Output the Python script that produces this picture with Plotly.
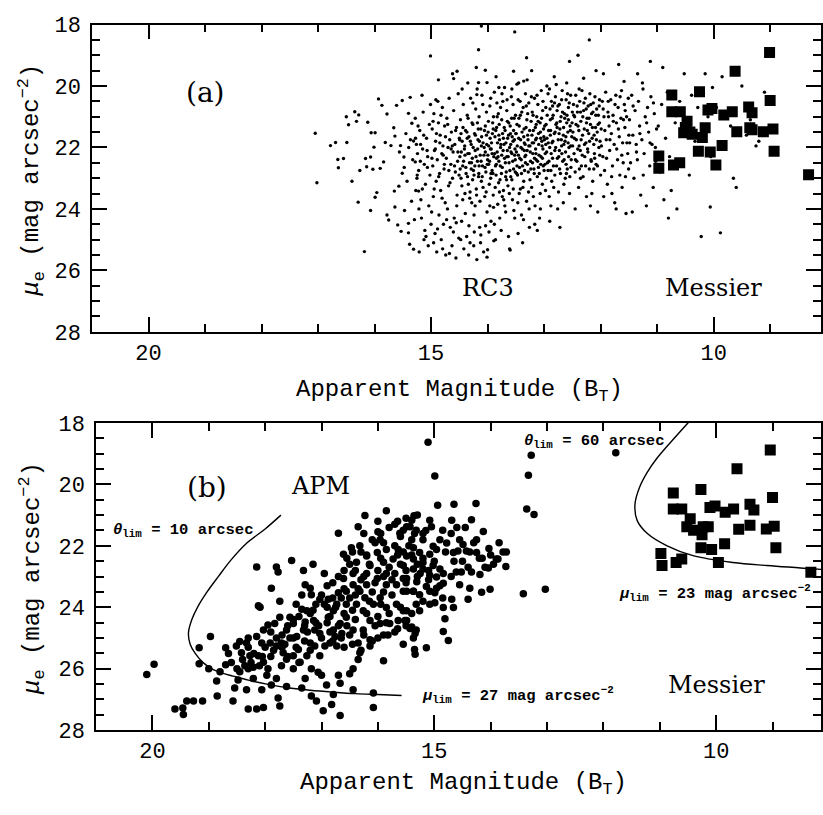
import plotly.graph_objects as go

# ---------------- DATA ----------------
# Panel (a): RC3 galaxies (B_T, mu_e)
rc3_pts = [
(17.05,21.54),(17.02,23.15),(16.78,21.94),(16.69,21.84),(16.64,22.66),(16.65,22.39),(16.55,22.36),(16.49,21.84),
(16.50,21.0),(16.46,21.26),(16.35,20.84),(16.32,21.15),(16.28,20.94),(16.40,23.10),(16.29,23.78),(16.18,25.39),
(16.26,22.75),(16.16,22.36),(16.14,22.63),(16.12,21.18),(16.07,24.05),(16.06,21.52),(16.07,22.31),(16.03,22.71),
(16.01,21.99),(15.99,23.62),(15.96,23.47),(15.93,20.42),(15.90,22.68),(15.87,20.63),(15.84,22.47),(15.81,21.84),
(15.78,24.20),(15.75,24.36),(15.66,21.36),(15.64,21.63),(15.64,23.94),(15.65,23.42),(15.57,23.26),(15.56,22.15),
(15.54,21.94),(15.51,22.84),(15.48,22.31),(15.47,24.05),(15.40,24.47),(15.40,24.78),(15.38,25.15),(15.31,25.31),
(15.61,20.63),(15.51,20.47),(15.40,20.89),(15.37,20.37),(15.34,21.21),(15.31,21.79),(15.28,22.47),(15.25,23.0),
(15.22,23.42),(15.78,20.91),(15.71,21.94),(15.99,21.52),(15.59,24.52),(15.53,24.73),
(15.28,21.05),(15.26,21.9),(15.24,22.2),(15.22,22.75),(15.2,21.45),(15.18,23.7),(15.17,24.3),(15.15,22.05),
(15.14,20.85),(15.12,22.55),(15.1,23.2),(15.09,24.9),(15.08,21.7),(15.06,22.3),(15.05,25.2),(15.04,23.9),
(15.03,21.25),(15.02,22.9),(15.01,20.6),(15.0,24.5),(15.27,23.4),(15.21,25.4),(15.13,21.6),(15.07,22.1),
(15.19,22.45),(15.11,24.7),(15.16,20.3),(15.23,21.3),(15.01,19.02),
(15.475,22.65),(15.445,21.55),(15.425,23.1),(15.395,22.0),(15.365,21.75),(15.345,23.75),(15.325,22.4),
(15.295,24.35),(15.275,21.7),(15.245,22.9),(15.215,24.0),(15.185,21.9),(15.155,23.35),(15.125,25.0),(15.065,22.65),
(14.98,21.4),(14.97,22.6),(14.96,23.6),(14.95,20.9),(14.94,22.1),(14.93,24.8),(14.92,21.8),(14.91,23.1),
(14.9,25.4),(14.89,22.4),(14.88,20.5),(14.87,21.2),(14.86,24.2),(14.85,22.85),(14.84,21.6),(14.83,23.4),
(14.82,25.0),(14.81,22.2),(14.8,20.7),(14.79,21.95),(14.78,24.5),(14.77,22.7),(14.76,21.3),(14.75,23.8),
(14.74,25.5),(14.73,22.35),(14.72,21.05),(14.71,24.0),(14.7,22.0),(14.69,23.25),(14.68,20.4),(14.67,21.75),
(14.66,24.6),(14.65,22.55),(14.64,21.5),(14.63,25.2),(14.62,23.0),(14.61,22.15),(14.6,20.8),(14.59,24.3),
(14.58,21.9),(14.57,22.8),(14.56,25.6),(14.55,21.35),(14.54,23.55),(14.53,22.45),(14.52,20.25),(14.51,24.95),
(14.5,21.7),(14.99,24.1),(14.87,19.8),(14.62,19.6),(14.54,19.52),(14.6,19.76),
(14.985,22.35),(14.965,21.15),(14.945,23.35),(14.925,22.05),(14.905,21.55),(14.885,24.65),(14.865,22.95),
(14.845,21.85),(14.825,20.95),(14.805,23.65),(14.785,22.25),(14.765,22.55),(14.745,21.65),(14.725,24.35),
(14.705,21.25),(14.685,22.75),(14.665,23.15),(14.645,22.05),(14.625,21.95),(14.605,24.75),(14.585,22.6),
(14.565,21.45),(14.545,23.9),(14.525,22.15),(14.505,22.9),(14.955,25.1),(14.795,25.3),(14.675,25.45),
(14.555,24.45),(14.915,20.45),
(14.49,22.3),(14.48,21.1),(14.47,23.0),(14.46,24.4),(14.45,21.8),(14.44,22.6),(14.43,20.6),(14.42,25.3),
(14.41,22.05),(14.4,23.5),(14.39,21.45),(14.38,22.85),(14.37,24.9),(14.36,20.95),(14.35,22.2),(14.34,23.2),
(14.33,21.65),(14.32,22.5),(14.31,25.1),(14.3,20.4),(14.29,21.9),(14.28,23.8),(14.27,22.35),(14.26,21.25),
(14.25,22.75),(14.24,24.2),(14.23,21.55),(14.22,22.1),(14.21,20.75),(14.2,23.35),(14.19,25.65),(14.18,22.45),
(14.17,21.75),(14.16,22.95),(14.15,21.0),(14.14,24.6),(14.13,22.25),(14.12,21.4),(14.11,23.1),(14.1,20.3),
(14.09,22.6),(14.08,21.85),(14.07,25.4),(14.06,22.0),(14.05,23.6),(14.04,21.3),(14.03,22.8),(14.02,20.85),
(14.01,24.1),(14.0,22.4),(14.47,21.55),(14.44,23.7),(14.4,22.25),(14.36,21.7),(14.33,24.55),(14.29,22.7),
(14.26,20.55),(14.22,23.9),(14.18,21.2),(14.15,22.6),(14.11,21.95),(14.08,23.3),(14.04,22.15),(14.02,21.6),
(14.45,20.1),(14.35,19.9),(14.2,19.4),(14.12,24.85),(14.31,23.45),(14.24,22.9),(14.11,18.05),(14.16,18.82),
(14.04,19.49),(14.16,19.89),(14.01,19.89),(14.19,20.28),(14.0,25.33),(14.01,25.57),
(14.495,21.75),(14.485,22.7),(14.465,22.15),(14.455,23.25),(14.435,21.35),(14.425,22.45),(14.405,21.95),
(14.395,24.15),(14.385,22.65),(14.365,21.5),(14.355,22.95),(14.345,21.05),(14.325,22.2),(14.315,23.65),
(14.305,21.8),(14.285,22.5),(14.275,21.2),(14.265,23.05),(14.255,22.0),(14.235,24.75),(14.225,22.6),
(14.215,21.6),(14.205,22.3),(14.195,23.55),(14.175,22.05),(14.165,21.4),(14.155,22.85),(14.145,21.8),
(14.135,23.75),(14.115,22.45),(14.105,21.65),(14.095,22.95),(14.085,20.6),(14.065,22.25),(14.055,21.45),
(14.045,22.65),(14.025,23.45),(14.015,21.9),(14.005,22.55),(14.475,25.0),(14.335,25.5),(14.245,25.2),
(14.125,25.1),(14.035,24.55),(14.185,20.1),
(13.99,21.5),(13.98,22.55),(13.97,23.2),(13.96,20.65),(13.95,22.05),(13.94,24.4),(13.93,21.85),(13.92,22.75),
(13.91,21.2),(13.9,23.55),(13.89,22.3),(13.88,20.2),(13.87,21.65),(13.86,25.0),(13.85,22.9),(13.84,21.35),
(13.83,22.15),(13.82,23.85),(13.81,20.9),(13.8,22.45),(13.79,21.75),(13.78,23.05),(13.77,22.0),(13.76,24.7),
(13.75,21.1),(13.74,22.65),(13.73,20.5),(13.72,23.4),(13.71,21.9),(13.7,22.35),(13.69,21.45),(13.68,24.1),
(13.67,22.8),(13.66,20.8),(13.65,22.1),(13.64,23.25),(13.63,21.6),(13.62,22.5),(13.61,25.3),(13.6,21.3),
(13.59,22.95),(13.58,20.35),(13.57,22.2),(13.56,23.7),(13.55,21.8),(13.54,22.7),(13.53,21.05),(13.52,24.3),
(13.51,22.4),(13.5,21.55),(13.98,21.95),(13.94,22.85),(13.9,21.4),(13.86,22.6),(13.83,21.0),(13.79,23.45),
(13.75,22.25),(13.72,21.7),(13.68,22.95),(13.65,21.15),(13.61,22.0),(13.57,23.05),(13.54,21.45),(13.51,22.8),
(13.96,23.9),(13.88,24.5),(13.77,20.7),(13.7,20.05),(13.63,24.9),(13.55,20.6),(13.92,22.2),(13.84,22.35),
(13.8,21.6),(13.66,22.3),(13.59,21.9),(13.52,22.25),(13.74,23.6),(13.85,19.7),(13.52,18.24),(13.8,20.05),
(13.57,20.10),(13.54,19.52),(13.89,25.04),(13.6,25.34),
(13.995,22.25),(13.985,21.15),(13.965,22.45),(13.955,21.7),(13.945,23.0),(13.935,22.05),(13.915,21.55),
(13.905,22.85),(13.895,21.0),(13.875,22.2),(13.865,23.3),(13.855,21.45),(13.845,22.55),(13.825,21.85),
(13.815,22.3),(13.805,23.15),(13.795,21.25),(13.775,22.6),(13.765,21.9),(13.755,22.85),(13.735,21.55),
(13.725,22.1),(13.715,23.7),(13.705,21.35),(13.685,22.5),(13.675,21.85),(13.665,23.05),(13.645,21.7),
(13.635,22.3),(13.625,21.2),(13.605,22.75),(13.595,21.55),(13.585,22.15),(13.565,21.65),(13.555,22.45),
(13.545,23.35),(13.525,21.75),(13.515,22.05),(13.505,20.95),(13.975,24.75),(13.895,23.95),(13.785,24.3),
(13.695,23.9),(13.615,23.5),(13.535,24.05),(13.945,20.4),(13.835,20.55),(13.745,20.25),(13.655,20.45),(13.575,21.05),
(13.49,22.15),(13.48,21.25),(13.47,22.9),(13.46,20.45),(13.45,21.7),(13.44,23.5),(13.43,22.35),(13.42,20.95),
(13.41,22.0),(13.4,24.2),(13.39,21.5),(13.38,22.6),(13.37,20.7),(13.36,23.1),(13.35,21.85),(13.34,22.3),
(13.33,20.25),(13.32,21.35),(13.31,23.75),(13.3,22.1),(13.29,21.6),(13.28,22.8),(13.27,20.55),(13.26,24.6),
(13.25,21.95),(13.24,22.45),(13.23,21.15),(13.22,23.3),(13.21,20.85),(13.2,22.2),(13.19,21.45),(13.18,22.7),
(13.17,20.4),(13.16,23.9),(13.15,21.75),(13.14,22.4),(13.13,21.0),(13.12,22.95),(13.11,20.6),(13.1,21.55),
(13.09,22.25),(13.08,24.3),(13.07,21.2),(13.06,22.55),(13.05,20.15),(13.04,21.8),(13.03,23.2),(13.02,22.05),
(13.01,21.4),(13.0,22.75),(13.48,22.6),(13.44,21.3),(13.4,22.85),(13.36,21.65),(13.33,22.5),(13.29,20.9),
(13.25,23.05),(13.21,21.85),(13.17,22.35),(13.14,21.25),(13.1,22.65),(13.06,21.7),(13.03,22.35),(13.46,24.8),
(13.38,25.1),(13.3,19.8),(13.22,19.5),(13.12,24.7),(13.42,23.35),(13.19,23.6),(13.07,23.5),(13.35,22.1),
(13.27,21.95),(13.15,22.05),(13.02,20.5),(13.45,19.9),(13.48,19.94),(13.36,19.84),(13.31,19.08),
(13.495,21.55),(13.485,22.85),(13.475,21.95),(13.455,22.25),(13.445,21.05),(13.435,22.65),(13.415,21.75),
(13.405,22.4),(13.395,20.85),(13.385,22.05),(13.375,23.3),(13.355,21.4),(13.345,22.75),(13.335,21.9),
(13.325,22.25),(13.305,21.1),(13.295,22.55),(13.285,21.75),(13.275,23.45),(13.255,21.45),(13.245,22.15),
(13.235,22.7),(13.215,21.6),(13.205,22.5),(13.195,20.95),(13.185,21.85),(13.175,22.85),(13.155,21.35),
(13.145,22.2),(13.135,21.7),(13.115,22.45),(13.105,21.15),(13.095,21.9),(13.085,22.85),(13.065,21.5),
(13.055,22.3),(13.045,21.05),(13.035,21.95),(13.015,22.6),(13.005,21.65),(13.465,23.8),(13.365,24.35),
(13.265,24.0),(13.165,24.5),(13.065,24.0),(13.425,20.5),(13.315,20.65),(13.225,20.35),(13.125,20.3),(13.025,20.8),
(12.99,21.3),(12.98,22.2),(12.97,20.7),(12.96,23.0),(12.95,21.7),(12.94,22.5),(12.93,20.25),(12.92,21.45),
(12.91,23.6),(12.9,22.0),(12.89,21.1),(12.88,22.75),(12.87,20.5),(12.86,21.85),(12.85,22.35),(12.84,20.95),
(12.83,23.3),(12.82,21.55),(12.81,22.1),(12.8,20.35),(12.79,21.25),(12.78,22.6),(12.77,20.8),(12.76,24.0),
(12.75,21.75),(12.74,22.3),(12.73,20.6),(12.72,21.4),(12.71,22.85),(12.7,21.0),(12.69,21.95),(12.68,20.15),
(12.67,22.45),(12.66,21.6),(12.65,23.2),(12.64,20.9),(12.63,21.8),(12.62,22.15),(12.61,20.45),(12.6,21.2),
(12.59,22.7),(12.58,21.5),(12.57,20.7),(12.56,22.0),(12.55,23.5),(12.54,21.3),(12.53,20.3),(12.52,22.4),
(12.51,21.65),(12.5,20.85),(12.97,21.9),(12.93,22.75),(12.89,21.6),(12.85,20.65),(12.81,22.9),(12.77,21.35),
(12.73,22.1),(12.69,20.45),(12.65,21.9),(12.61,22.55),(12.57,21.1),(12.53,21.95),(12.9,24.4),(12.72,24.6),
(12.6,19.9),(12.82,19.7),(12.66,23.8),(12.95,20.0),(12.88,23.9),(12.55,19.2),
(12.995,21.75),(12.985,22.55),(12.965,21.25),(12.955,22.15),(12.945,20.95),(12.925,21.85),(12.915,22.45),
(12.895,20.75),(12.885,21.45),(12.875,22.2),(12.855,21.05),(12.845,21.8),(12.835,22.6),(12.815,20.55),
(12.805,21.5),(12.795,22.0),(12.775,21.2),(12.765,22.35),(12.755,20.65),(12.735,21.55),(12.725,22.7),
(12.715,21.15),(12.695,21.75),(12.685,22.2),(12.675,20.85),(12.655,21.35),(12.645,22.4),(12.635,21.05),
(12.615,21.65),(12.605,22.85),(12.595,20.95),(12.575,21.85),(12.565,22.3),(12.555,20.55),(12.535,21.45),
(12.525,22.65),(12.505,21.2),(12.975,23.4),(12.865,23.1),(12.745,23.45),(12.625,23.0),(12.545,22.95),
(12.905,20.1),(12.785,19.95),(12.585,20.25),
(12.49,21.5),(12.48,20.6),(12.47,22.2),(12.46,21.0),(12.45,22.8),(12.44,20.3),(12.43,21.75),(12.42,22.45),
(12.41,20.85),(12.4,21.3),(12.39,23.3),(12.38,21.95),(12.37,20.5),(12.36,22.1),(12.35,21.15),(12.34,22.6),
(12.33,20.15),(12.32,21.6),(12.31,22.95),(12.3,20.8),(12.29,21.4),(12.28,22.3),(12.27,20.4),(12.26,21.85),
(12.25,23.6),(12.24,21.05),(12.23,22.05),(12.22,20.65),(12.21,21.55),(12.2,22.7),(12.19,20.25),(12.18,21.25),
(12.17,22.4),(12.16,20.9),(12.15,21.7),(12.14,23.1),(12.13,20.55),(12.12,21.9),(12.11,22.2),(12.1,20.35),
(12.09,21.35),(12.08,22.55),(12.07,20.75),(12.06,21.5),(12.05,24.1),(12.04,20.95),(12.03,22.0),(12.02,20.45),
(12.01,21.8),(12.0,22.9),(12.45,24.0),(12.3,19.75),(12.18,23.9),(12.08,19.5),(12.38,20.1),(12.25,21.2),
(12.12,22.7),(12.02,21.2),(12.2,18.5),(12.4,19.0),
(12.495,21.95),(12.475,20.95),(12.465,21.7),(12.445,22.4),(12.435,21.25),(12.415,20.65),(12.405,22.05),
(12.385,21.45),(12.375,22.7),(12.355,20.85),(12.345,21.75),(12.325,22.25),(12.315,21.0),(12.295,20.55),
(12.285,21.9),(12.265,22.6),(12.255,20.75),(12.235,21.45),(12.225,22.15),(12.205,21.05),(12.195,21.8),
(12.175,20.6),(12.165,22.45),(12.145,21.35),(12.135,20.85),(12.115,21.6),(12.105,22.35),(12.085,20.95),
(12.075,21.75),(12.055,22.6),(12.045,21.25),(12.025,20.65),(12.015,22.25),(12.355,23.0),(12.155,23.5),
(11.99,21.4),(11.97,20.5),(11.96,22.3),(11.94,21.0),(11.93,22.75),(11.91,20.2),(11.9,21.75),(11.88,23.2),
(11.87,20.85),(11.85,21.3),(11.84,22.1),(11.82,20.45),(11.81,21.55),(11.79,22.6),(11.78,20.95),(11.76,21.9),
(11.75,23.8),(11.73,20.3),(11.72,21.2),(11.7,22.4),(11.69,20.7),(11.67,21.65),(11.66,22.9),(11.64,21.05),
(11.63,20.15),(11.61,21.85),(11.6,22.5),(11.58,20.6),(11.57,21.35),(11.55,24.15),(11.54,21.0),(11.52,22.2),
(11.51,20.4),(11.5,21.6),(11.95,19.6),(11.8,23.5),(11.68,19.3),(11.56,22.95),(11.86,21.0),(11.62,23.3),
(11.985,21.95),(11.955,20.75),(11.925,21.45),(11.895,22.35),(11.865,20.5),(11.835,21.75),(11.805,22.95),
(11.775,21.15),(11.745,20.6),(11.715,22.05),(11.685,21.4),(11.655,20.35),(11.625,22.25),(11.595,21.1),
(11.565,20.8),(11.535,21.85),(11.505,22.7),(11.945,23.6),(11.725,24.0),(11.585,19.85),
(11.49,21.1),(11.47,22.5),(11.45,20.3),(11.43,21.6),(11.41,23.0),(11.39,20.8),(11.37,21.9),(11.35,22.4),
(11.33,20.5),(11.31,21.3),(11.29,23.55),(11.27,21.75),(11.25,20.1),(11.23,22.2),(11.21,21.0),(11.19,23.9),
(11.17,20.7),(11.15,21.5),(11.13,22.6),(11.11,20.35),(11.09,21.9),(11.07,23.3),(11.05,20.9),(11.03,22.0),
(11.01,21.4),(11.44,24.1),(11.26,19.9),(11.12,19.2),
(11.485,21.85),(11.425,20.65),(11.365,22.15),(11.305,21.55),(11.245,22.9),(11.185,21.2),(11.125,21.85),
(11.065,20.55),(11.025,22.45),(11.345,19.6),
(10.98,21.3),(10.95,22.8),(10.92,20.6),(10.88,23.7),(10.85,21.7),(10.82,20.2),(10.78,22.3),(10.75,23.4),
(10.72,20.9),(10.68,21.2),(10.65,24.0),(10.6,20.5),(10.56,22.6),(10.52,19.6),(10.9,19.4),(10.8,24.3),
(10.47,21.05),(10.43,22.9),(10.39,20.3),(10.33,21.8),(10.28,20.7),(10.22,24.9),(10.15,19.6),(10.1,21.0),
(10.05,22.3),(10.02,20.05),(10.06,23.94),
(9.95,20.7),(9.88,24.78),(9.85,19.7),(9.7,21.3),(9.65,23.0),(9.6,23.3),(9.5,20.0),(9.42,21.6),(9.35,21.1),
(9.25,21.95),(9.2,21.8),(9.15,21.6),(9.1,20.2),
]

# Messier galaxies, panel (a)
messier_a = [
(9.01,18.91),(9.62,19.52),(10.25,20.19),(10.74,20.29),(9.00,20.47),(10.74,20.84),(10.59,20.84),
(10.10,20.78),(10.03,20.73),(9.82,20.94),(9.67,20.84),(9.38,20.68),(9.32,20.87),(10.47,21.15),
(10.53,21.52),(10.38,21.57),(10.20,21.68),(10.15,21.36),(9.59,21.49),(9.36,21.36),(9.32,21.42),
(9.12,21.49),(8.95,21.40),(10.27,22.12),(10.06,22.15),(9.85,21.94),(8.93,22.12),(9.96,22.57),
(10.97,22.28),(10.97,22.68),(10.71,22.57),(10.60,22.50),(8.32,22.89),(10.50,21.35),(10.42,21.50),
]

# Panel (b): APM galaxies
apm_pts = [
(20.10,26.19),(19.97,25.85),(19.60,27.31),(19.46,27.28),(19.45,27.49),(19.39,27.05),(19.27,27.05),
(19.11,27.05),(19.17,25.32),(19.17,25.84),(18.97,24.95),(19.00,26.00),(18.86,26.40),(18.85,26.89),
(18.70,25.87),(18.70,25.32),(18.57,27.05),(18.54,26.63),(18.48,26.37),
(18.51,25.26),(18.42,25.48),(18.33,25.16),(18.27,25.58),(18.36,25.90),(18.21,25.95),(18.15,24.95),
(18.06,25.16),(18.12,25.58),(18.03,25.79),(17.97,26.21),(18.21,26.32),(18.30,25.0),(18.45,25.11),(18.03,24.74),
(18.33,26.68),(18.30,27.31),(18.15,27.31),(18.03,27.26),(18.06,26.68),(17.89,26.53),(17.77,26.95),
(17.74,27.21),(17.80,26.32),(17.62,26.58),
(18.15,22.69),(18.12,23.95),(18.09,24.0),(17.89,23.38),(17.80,22.69),(17.77,22.85),(17.53,22.48),
(17.74,23.80),(17.74,24.32),(17.83,24.53),(17.95,24.58),
(17.91,25.16),(17.80,25.26),(17.71,25.16),(17.62,24.74),(17.56,24.32),(17.50,24.53),(17.44,24.95),
(17.56,25.0),(17.68,25.48),(17.62,25.69),(17.50,25.58),(17.71,25.90),(17.50,26.0),(17.41,25.37),
(17.38,25.79),(17.32,24.74),(17.29,24.48),(17.35,24.06),(17.26,24.11),(17.14,24.43),(17.12,24.74),
(17.03,24.85),(17.20,25.16),(17.12,25.26),(17.26,25.58),(17.03,25.58),(16.94,25.26),(17.06,26.11),
(17.00,26.21),(17.18,26.0),(17.29,26.32),(17.35,26.63),(17.18,26.89),(17.09,27.05),(16.97,27.37),
(16.82,27.16),(16.67,27.52),(16.91,26.53),
(17.32,22.80),(17.29,23.27),(17.20,23.38),(17.18,23.59),(17.03,23.74),(16.88,23.74),(16.88,24.32),
(16.79,24.11),(16.73,23.90),(16.79,24.74),(16.76,24.95),(16.85,25.16),(16.73,25.26),(16.64,24.85),
(16.67,24.53),(16.56,24.32),(16.56,23.90),(16.70,23.53),(16.56,23.48),(16.44,23.27),(16.61,23.06),
(16.61,22.27),(16.70,21.59),(16.44,22.90),(16.38,22.53),(16.47,22.06),(16.32,22.0),(16.35,21.38),
(16.23,21.01),(16.0,21.54),(15.85,20.86),(15.96,21.80),(16.01,22.22),(16.20,22.33),(16.14,22.64),
(15.90,22.53),(15.85,22.12),(15.73,22.43),(15.64,22.12),(15.61,21.59),(15.49,21.38),(15.40,21.17),
(15.32,21.49),(15.55,23.06),(15.67,23.27),(15.85,23.27),(16.01,23.06),(16.20,23.27),(16.32,23.48),
(16.23,23.69),(16.38,23.90),(16.26,24.11),(16.08,23.90),(15.96,23.69),(15.85,24.01),(15.67,23.90),
(15.49,23.48),(15.37,23.48),(15.32,23.90),(15.49,24.11),(15.64,24.43),(15.79,24.53),(15.96,24.53),
(16.14,24.43),(16.26,24.74),(16.44,24.74),(16.35,25.16),(16.14,25.06),(16.0,25.0),(15.82,24.90),
(15.52,24.43),(15.43,24.69),(15.32,24.74),(16.32,25.48),(16.14,25.26),(15.90,25.74),(16.44,26.0),
(16.50,26.16),(16.44,26.68),(16.08,26.79),(16.08,27.26),(16.70,26.21),(16.67,26.47),(16.79,26.84),
(15.35,25.37),(15.37,25.0),
(15.11,18.63),(14.99,19.73),(13.28,19.05),(13.33,19.70),(13.36,20.80),(13.23,20.98),(11.78,18.97),
(13.42,23.56),(13.03,23.41),(14.94,20.68),(14.65,20.65),(14.26,20.62),(15.36,21.02),(14.69,21.17),
(14.34,21.15),(15.08,21.17),(15.05,21.38),(14.85,21.49),(14.13,21.53),(15.43,21.38),(15.55,21.49),
(15.20,21.80),(15.02,22.01),(14.96,22.12),(15.08,22.27),(14.78,21.91),(14.49,21.96),(14.37,22.20),
(14.66,22.22),(14.58,22.17),(14.25,22.22),(14.03,22.09),(13.78,22.20),(13.72,22.20),(13.87,22.43),
(13.73,22.67),(14.04,22.72),(14.19,22.93),(14.34,22.85),(14.52,22.85),(14.61,22.85),
(15.37,22.06),(15.26,22.22),(15.49,22.33),(15.37,22.43),(15.20,22.54),(15.55,22.64),(15.37,22.75),
(15.20,22.75),(15.02,22.64),(14.90,22.75),(15.08,22.96),(14.96,23.01),(14.84,22.90),
(15.49,23.06),(15.31,23.17),(15.55,23.48),(15.37,23.48),(15.26,23.59),(15.08,23.48),(14.96,23.38),
(14.84,23.22),(14.55,23.27),(14.37,23.38),(14.16,23.51),(14.01,23.41),(15.14,23.32),(14.99,23.53),
(14.69,23.74),(14.40,23.74),(15.55,24.11),(15.26,24.11),(15.08,23.90),(14.99,23.85),(14.84,24.01),
(14.66,24.01),(15.49,24.43),(15.40,24.64),(15.34,24.85),(14.81,24.37),(14.84,24.79),(14.75,25.08),
(15.14,25.32),(15.34,25.53),(13.90,22.43),(14.43,22.17),
(16.9,24.0),(16.6,24.2),(16.5,23.7),(16.3,23.1),(16.2,22.9),(16.0,22.8),(15.9,23.0),(15.8,22.7),
(15.7,22.9),(15.6,22.6),(15.5,22.8),(15.4,22.3),(15.3,22.6),(15.7,22.0),(15.9,21.9),(16.1,21.8),
(16.3,22.2),(16.5,22.6),(16.6,22.8),(16.8,23.2),(17.0,23.6),(17.2,24.2),(17.4,24.3),(17.6,24.6),
(17.8,25.0),(18.0,25.3),(18.2,25.5),(18.4,25.7),(18.6,25.8),(18.3,25.3),(17.9,24.8),(17.7,24.9),
(17.5,25.0),(17.3,25.1),(17.1,24.5),(16.9,24.5),(16.7,24.6),(16.5,24.9),(16.4,24.4),(16.2,24.2),
(16.0,24.3),(15.8,24.2),(15.6,24.0),(15.9,23.5),(16.1,23.5),(16.4,23.6),(16.6,23.4),(16.8,23.7),
(15.5,23.2),(15.3,23.0),(15.2,22.4),(15.4,21.8),(15.6,21.7),(15.8,21.4),(16.0,21.2),(15.7,21.3),
(15.5,21.1),(15.3,21.0),(15.2,21.6),(16.2,22.3),(16.4,22.8),(16.7,23.0),(16.9,23.3),(17.1,23.9),
(17.3,24.6),(17.5,24.4),(17.7,25.3),(17.9,25.6),(18.1,25.9),(18.3,26.0),(18.5,26.0),(18.8,26.1),
(17.6,25.6),(17.4,25.8),(17.2,25.4),(17.0,25.0),(16.8,25.1),(16.6,25.3),(16.3,25.4),(16.1,25.1),
(15.9,24.9),(15.7,24.8),(15.5,24.6),(15.4,24.2),(15.2,23.8),(15.1,23.1),(15.0,22.5),(14.8,22.2),
(14.7,21.6),(14.9,21.8),(15.1,22.8),(14.9,23.3),(14.7,23.0),(14.5,22.5),(14.4,22.7),(14.3,21.9),
(14.2,22.4),(14.1,22.7),(14.0,22.3),(14.6,21.4),
(17.45,23.9),(17.35,23.6),(17.15,24.1),(16.95,23.9),(16.85,24.3),(16.75,24.0),(16.65,23.7),(16.55,24.6),
(16.45,24.1),(16.35,23.4),(16.25,23.0),(16.15,22.6),(16.05,23.2),(15.95,22.4),(15.85,22.9),(15.75,23.1),
(15.65,22.3),(15.55,22.2),(15.45,22.0),(15.35,21.6),(15.25,22.9),(15.15,21.5),(17.65,25.2),(17.85,25.4),
(18.05,25.6),(18.25,25.8),(18.45,26.1),(18.65,25.5),(17.25,24.8),(17.05,24.6),(16.85,24.8),(16.65,25.0),
(16.45,25.2),(16.25,24.9),(16.05,24.6),(15.85,24.5),(15.65,24.7),(16.15,23.8),(15.95,23.9),(15.75,23.6),
(16.55,22.4),(16.45,22.2),(16.25,21.6),(16.05,21.9),(15.95,21.6),(17.15,22.6),(16.95,22.9),(17.45,25.3),
(17.95,26.0),(16.35,25.7),(15.55,25.2),(14.85,23.7),(14.65,22.5),(14.55,21.8),(14.45,21.4),(14.25,21.8),
(14.15,22.4),(13.95,22.6),(13.85,21.9),(15.65,21.2),
]

# Messier galaxies, panel (b)
messier_b = [
(9.04,18.88),(9.63,19.49),(10.27,20.17),(10.76,20.28),(9.00,20.43),(10.76,20.80),(10.61,20.80),
(10.11,20.75),(10.02,20.70),(9.84,20.91),(9.69,20.80),(9.40,20.65),(9.33,20.83),(10.46,21.12),
(10.52,21.38),(10.40,21.49),(10.23,21.38),(10.25,21.64),(10.14,21.38),(9.60,21.46),(9.40,21.33),
(9.11,21.45),(8.97,21.36),(10.27,22.06),(10.08,22.12),(9.85,21.93),(8.94,22.06),(9.96,22.54),
(10.98,22.25),(10.96,22.64),(10.71,22.54),(10.61,22.43),(8.32,22.86),
]

# Selection limit curves (theta_lim / mu_lim)
apm_limit = [
(17.72,21.0),(18.0,21.45),(18.32,21.9),(18.6,22.45),(18.83,23.0),(19.03,23.5),(19.2,24.0),(19.3,24.4),
(19.36,24.83),(19.33,25.2),(19.24,25.5),(19.1,25.8),(18.92,26.03),(18.75,26.15),(18.57,26.24),(18.3,26.37),
(17.97,26.5),(17.6,26.62),(17.2,26.7),(16.8,26.76),(16.4,26.81),(16.0,26.84),(15.58,26.87),
]
messier_limit = [
(10.40,17.8),(10.50,18.0),(10.87,18.76),(11.05,19.15),(11.22,19.6),(11.36,20.1),(11.44,20.65),
(11.40,21.18),(11.22,21.6),(10.87,22.0),(10.41,22.32),(9.70,22.54),(9.10,22.64),(8.1,22.77),
]

# ---------------- FIGURE ----------------
W, H = 823, 815
MONO = "Liberation Mono"
SERIF = "DejaVu Serif"

def xs(p): return [a for a, b in p]
def ys(p): return [b for a, b in p]

fig = go.Figure()
fig.add_trace(go.Scatter(x=xs(rc3_pts), y=ys(rc3_pts), mode="markers",
                         marker=dict(size=3.4, color="black", line=dict(width=0)),
                         xaxis="x", yaxis="y", showlegend=False))
fig.add_trace(go.Scatter(x=xs(messier_a), y=ys(messier_a), mode="markers",
                         marker=dict(size=11, symbol="square", color="black", line=dict(width=0)),
                         xaxis="x", yaxis="y", showlegend=False))
fig.add_trace(go.Scatter(x=xs(apm_limit), y=ys(apm_limit), mode="lines",
                         line=dict(color="black", width=1.4, shape="spline"),
                         xaxis="x2", yaxis="y2", showlegend=False))
fig.add_trace(go.Scatter(x=xs(messier_limit), y=ys(messier_limit), mode="lines",
                         line=dict(color="black", width=1.4, shape="spline"),
                         xaxis="x2", yaxis="y2", showlegend=False))
fig.add_trace(go.Scatter(x=xs(apm_pts), y=ys(apm_pts), mode="markers",
                         marker=dict(size=7.5, color="black", line=dict(width=0)),
                         xaxis="x2", yaxis="y2", showlegend=False))
fig.add_trace(go.Scatter(x=xs(messier_b), y=ys(messier_b), mode="markers",
                         marker=dict(size=11, symbol="square", color="black", line=dict(width=0)),
                         xaxis="x2", yaxis="y2", showlegend=False))

def xaxis(dom, rng, anchor):
    return dict(domain=dom, range=rng, anchor=anchor, showgrid=False, zeroline=False,
                showline=True, linecolor="black", linewidth=1.5, mirror="ticks",
                ticks="inside", ticklen=15, tickwidth=1.5, tickcolor="black",
                tick0=10, dtick=5, tickfont=dict(family=MONO, size=22, color="black"),
                minor=dict(dtick=1, tick0=10, ticklen=8, tickwidth=1.5, tickcolor="black", ticks="inside"))

def yaxis(dom, anchor):
    return dict(domain=dom, range=[28, 18], anchor=anchor, showgrid=False, zeroline=False,
                showline=True, linecolor="black", linewidth=1.5, mirror="ticks",
                ticks="inside", ticklen=15, tickwidth=1.5, tickcolor="black", ticklabelstandoff=5,
                tick0=18, dtick=2, tickfont=dict(family=MONO, size=22, color="black"),
                minor=dict(dtick=0.5, tick0=18, ticklen=8, tickwidth=1.5, tickcolor="black", ticks="inside"))

fig.update_layout(
    width=W, height=H, margin=dict(l=0, r=0, t=0, b=0),
    paper_bgcolor="white", plot_bgcolor="white",
    xaxis=xaxis([92/W, 821/W], [21.0, 8.10], "y"),
    yaxis=yaxis([1-332/H, 1-15/H], "x"),
    xaxis2=xaxis([96/W, 821/W], [21.0, 8.14], "y2"),
    yaxis2=yaxis([1-743/H, 1-426/H], "x2"),
)

ann = []
def txt(x, y, s, ref="1", size=24, family=SERIF, xanchor="center", bold=False):
    ann.append(dict(x=x, y=y, xref="x" + ("" if ref == "1" else ref), yref="y" + ("" if ref == "1" else ref),
                    text=("<b>%s</b>" % s) if bold else s, showarrow=False, xanchor=xanchor, yanchor="middle",
                    font=dict(family=family, size=size, color="black")))

txt(18.99, 20.21, "(a)", size=28)
txt(13.99, 26.58, "RC3")
txt(10.0, 26.58, "Messier")
txt(19.03, 20.11, "(b)", "2", size=28)
txt(17.02, 20.05, "APM", "2")
txt(10.0, 26.54, "Messier", "2")
txt(20.74, 21.50, "<i>θ</i><sub>lim</sub> = 10 arcsec", "2", size=15.5, family=MONO, xanchor="left", bold=True)
txt(13.44, 18.60, "<i>θ</i><sub>lim</sub> = 60 arcsec", "2", size=15.5, family=MONO, xanchor="left", bold=True)
txt(11.76, 23.54, "<i>μ</i><sub>lim</sub> = 23 mag arcsec<sup>−2</sup>", "2", size=15.5, family=MONO, xanchor="left", bold=True)
txt(15.25, 26.85, "<i>μ</i><sub>lim</sub> = 27 mag arcsec<sup>−2</sup>", "2", size=15.5, family=MONO, xanchor="left", bold=True)

for (px, py) in [(459, 393), (463, 799)]:
    ann.append(dict(x=px/W, y=1-py/H, xref="paper", yref="paper", showarrow=False,
                    text="Apparent Magnitude (B<sub>T</sub>)", xanchor="center", yanchor="middle",
                    font=dict(family=MONO, size=24, color="black")))
for (px, py) in [(31, 176), (32, 587)]:
    ann.append(dict(x=px/W, y=1-py/H, xref="paper", yref="paper", showarrow=False, textangle=-90,
                    text="<i>μ</i><sub>e</sub> (mag arcsec<sup>−2</sup>)", xanchor="center", yanchor="middle",
                    font=dict(family=MONO, size=24, color="black")))
fig.update_layout(annotations=ann)

fig.write_html("out.html")
